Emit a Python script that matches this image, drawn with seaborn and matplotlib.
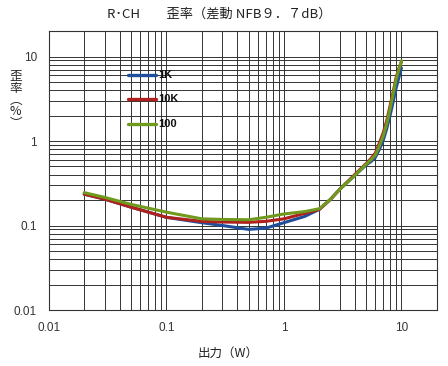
import pandas as pd
import matplotlib
matplotlib.use("Agg")
import matplotlib.pyplot as plt
import seaborn as sns

# values
power_w = [0.02, 0.03, 0.05, 0.1, 0.2, 0.3, 0.5, 0.7, 1, 1.5, 2, 2.5, 3, 4, 5,
           5.5, 6, 6.5, 7, 7.5, 8, 8.5, 9, 9.5, 10]
thd_1k = [0.235, 0.205, 0.165, 0.125, 0.108, 0.100, 0.090, 0.093, 0.108, 0.128,
          0.155, 0.205, 0.27, 0.39, 0.52, 0.57, 0.64, 0.80, 1.02, 1.40, 2.0,
          2.9, 4.2, 5.6, 7.3]
thd_10k = [0.235, 0.205, 0.165, 0.125, 0.112, 0.110, 0.109, 0.112, 0.120, 0.139,
           0.155, 0.205, 0.27, 0.40, 0.54, 0.62, 0.72, 0.95, 1.25, 1.75, 2.6,
           3.8, 5.6, 7.2, 8.6]
thd_100 = [0.245, 0.215, 0.178, 0.144, 0.120, 0.118, 0.117, 0.125, 0.137, 0.146,
           0.158, 0.205, 0.27, 0.39, 0.53, 0.60, 0.68, 0.88, 1.15, 1.6, 2.4,
           3.6, 5.3, 7.0, 8.9]
series_names = ["1K", "10K", "100"]
series_colors = ["#1f4f9c", "#b0201c", "#6f9a1e"]

df = pd.concat([
    pd.DataFrame({"power": power_w, "thd": vals, "freq": name})
    for name, vals in zip(series_names, [thd_1k, thd_10k, thd_100])
])

sns.set_style("white")
plt.rcParams["font.family"] = ["Liberation Sans", "Noto Sans CJK JP", "DejaVu Sans"]

fig = plt.figure(figsize=(4.48, 3.66), dpi=100)
ax = fig.add_axes([0.109, 0.153, 0.866, 0.762])

sns.lineplot(data=df, x="power", y="thd", hue="freq", hue_order=series_names,
             palette=series_colors, linewidth=2.2, ax=ax, legend=False)

ax.set_xscale("log")
ax.set_yscale("log")
ax.set_xlim(0.01, 20)
ax.set_ylim(0.01, 20)

ax.grid(True, which="both", color="#333333", linewidth=0.7)
ax.set_axisbelow(True)
for s in ax.spines.values():
    s.set_color("#333333")
    s.set_linewidth(0.8)

ax.set_xticks([0.01, 0.1, 1, 10])
ax.set_xticklabels(["0.01", "0.1", "1", "10"])
ax.set_yticks([0.01, 0.1, 1, 10])
ax.set_yticklabels(["0.01", "0.1", "1", "10"])
ax.tick_params(which="major", direction="out", length=5, width=0.8,
               labelsize=8.5, colors="#333333")
ax.tick_params(which="minor", length=0)
ax.set_xlabel("")
ax.set_ylabel("")

# legend drawn as lines with bold labels, no frame
for i, (name, col) in enumerate(zip(series_names, series_colors)):
    yy = 0.842 - i * 0.087
    ax.plot([0.203, 0.275], [yy, yy], color=col, linewidth=2.4,
            transform=ax.transAxes)
    ax.text(0.281, yy, name, transform=ax.transAxes, va="center", ha="left",
            fontsize=8, fontweight="bold", color="#111111")

cjk = ["Noto Sans CJK JP", "DejaVu Sans"]
fig.text(0.49, 0.962, "R･CH\u3000\u3000歪率（差動 NFB９．７dB）", ha="center", va="center",
         fontsize=9.5, color="#222222", family=cjk)
fig.text(0.51, 0.035, "出力（W）", ha="center", va="center", fontsize=9,
         color="#222222", family=cjk)

# vertical y label, one upright character per line
for i, ch in enumerate(["歪", "率", "︵", "%", "︶"]):
    fig.text(0.035, 0.79 - i * 0.032, ch, ha="center", va="center",
             fontsize=9, color="#222222", family=cjk)

fig.savefig("out.png", dpi=100)
plt.close(fig)
